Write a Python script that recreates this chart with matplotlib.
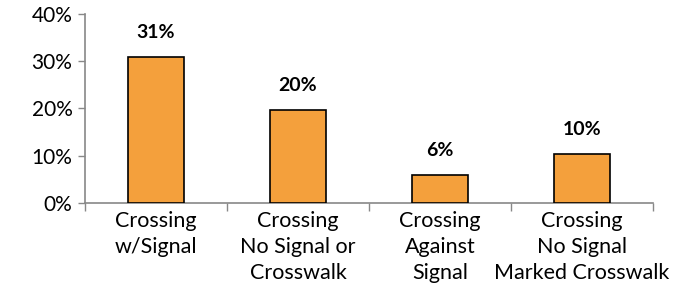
import matplotlib
matplotlib.use("Agg")
import matplotlib.pyplot as plt
import numpy as np

categories = ["Crossing\nw/Signal", "Crossing\nNo Signal or\nCrosswalk",
              "Crossing\nAgainst\nSignal", "Crossing\nNo Signal\nMarked Crosswalk"]
values = [30.8, 19.6, 5.9, 10.4]
value_labels = ["31%", "20%", "6%", "10%"]
yticks = [0, 10, 20, 30, 40]
ytick_labels = ["0%", "10%", "20%", "30%", "40%"]

plt.rcParams['font.family'] = ['Lato', 'DejaVu Sans']

fig = plt.figure(figsize=(6.92, 2.91), dpi=100)
ax = fig.add_axes([85/692, 1-203/291, (653-85)/692, (203-14)/291])

x = np.arange(len(categories))
ax.bar(x, values, width=0.4, color="#F4A03C", edgecolor="black", linewidth=1.2, zorder=3)

for xi, v, lab in zip(x, values, value_labels):
    ax.annotate(lab, (xi, v), xytext=(0, 11.5), textcoords="offset points",
                ha="center", va="bottom", fontsize=14, fontweight="bold")

ax.set_xlim(-0.5, len(categories) - 0.5)
ax.set_ylim(0, 40)
ax.set_yticks(yticks)
ax.set_yticklabels(ytick_labels, fontsize=15)
ax.set_xticks(np.arange(len(categories) + 1) - 0.5)
ax.set_xticklabels([])
ax.set_xticks(x, minor=True)
ax.set_xticklabels(categories, minor=True, fontsize=15.5, linespacing=1.38, va="top")
ax.tick_params(axis="x", which="minor", length=0, pad=6)
ax.tick_params(axis="x", which="major", length=6, color="#888888", width=1)
ax.tick_params(axis="y", length=5, color="#888888", width=1, pad=4)

for s in ["top", "right"]:
    ax.spines[s].set_visible(False)
for s in ["left", "bottom"]:
    ax.spines[s].set_color("#888888")
    ax.spines[s].set_linewidth(1.2)

fig.savefig("out.png", dpi=100)
